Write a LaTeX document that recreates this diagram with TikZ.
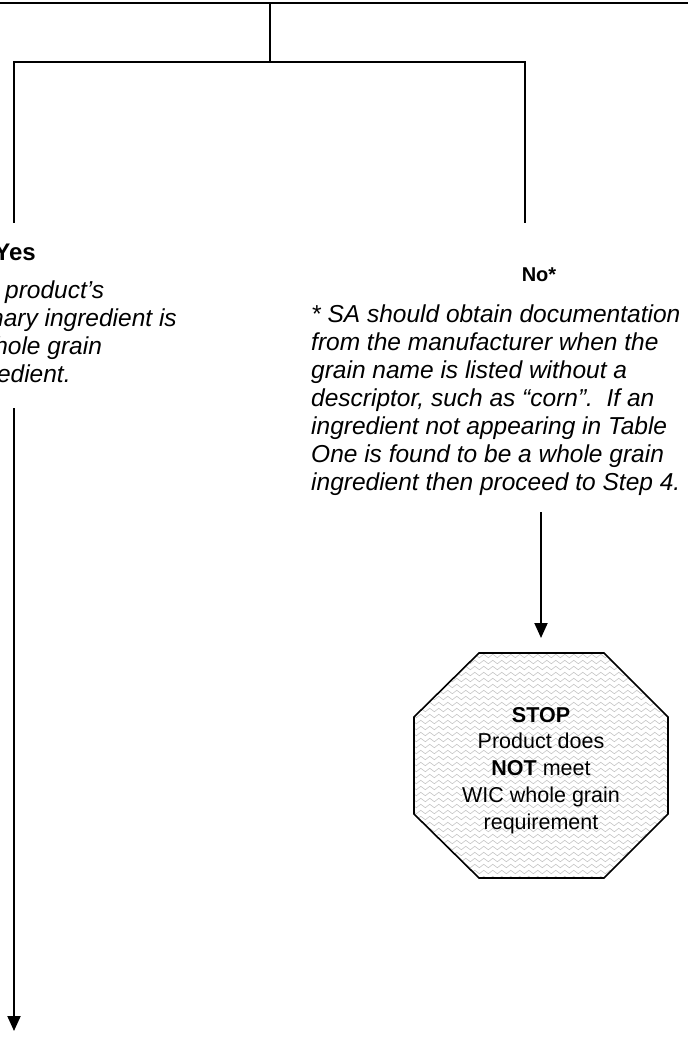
\documentclass[tikz,border=0pt]{standalone}
\usepackage{fontspec}
\setmainfont{Liberation Sans}
\usetikzlibrary{arrows.meta,decorations.pathmorphing}
\begin{document}
\begin{tikzpicture}[x=1pt,y=-1pt,
  conn/.style={line width=2pt,line cap=rect},
  arr/.style={line width=2pt,-{Triangle[length=15pt,width=13pt]}},
  bodytext/.style={inner sep=0pt,align=left,font=\fontsize{24.5}{28}\selectfont\itshape},
  wave/.style={draw=gray!45,line width=0.6pt,decorate,decoration={snake,segment length=9pt,amplitude=1.7pt}},
  stoptext/.style={inner sep=0pt,align=center,font=\fontsize{21.5}{26.75}\selectfont}]
\useasboundingbox (0,0) rectangle (688,1040);
\clip (0,0) rectangle (688,1040);
% top rule
\coordinate (ruleL) at (0,3);
\coordinate (ruleR) at (688,3);
\draw[line width=2.2pt] (ruleL) -- (ruleR);
% branching connectors
\coordinate (top) at (270,3);
\coordinate (junc) at (270,62);
\coordinate (lc) at (14,62);
\coordinate (rc) at (525,62);
\coordinate (lend) at (14,222);
\coordinate (rend) at (525,222);
\draw[conn] (top) -- (junc);
\draw[conn] (lend) -- (lc) -- (rc) -- (rend);
% Yes branch
\node[inner sep=0pt,anchor=base east,font=\fontsize{24}{28}\selectfont\bfseries] (yes) at (36,261) {Yes};
\node[bodytext,anchor=base west] (yestext) at (-44,382) {The product’s\\primary ingredient is\\a whole grain\\ingredient.};
\coordinate (ls) at (14,408);
\coordinate (le) at (14,1031);
\draw[arr] (ls) -- (le);
% No branch
\node[inner sep=0pt,anchor=base,font=\fontsize{20}{24}\selectfont\bfseries] (no) at (539,282) {No*};
\node[bodytext,anchor=base west] (notext) at (311,490) {* SA should obtain documentation\\from the manufacturer when the\\grain name is listed without a\\descriptor, such as “corn”.\ \ If an\\ingredient not appearing in Table\\One is found to be a whole grain\\ingredient then proceed to Step 4.};
\coordinate (rs) at (541,512);
\coordinate (re) at (541,638);
\draw[arr] (rs) -- (re);
% STOP octagon
\begin{scope}
\clip (479,653) -- (604,653) -- (668,717) -- (668,814) -- (604,878) -- (479,878) -- (414,814) -- (414,717) -- cycle;
\fill[white] (410,650) rectangle (672,882);
\foreach \yy in {650,656,...,884} {
  \draw[wave] (400,\yy) -- (690,\yy);
}
\end{scope}
\draw[line width=1.6pt,line join=miter] (479,653) -- (604,653) -- (668,717) -- (668,814) -- (604,878) -- (479,878) -- (414,814) -- (414,717) -- cycle;
\node[stoptext,anchor=base] (stop) at (541,829) {\textbf{STOP}\\Product does\\\textbf{NOT} meet\\WIC whole grain\\requirement};
\end{tikzpicture}
\end{document}
